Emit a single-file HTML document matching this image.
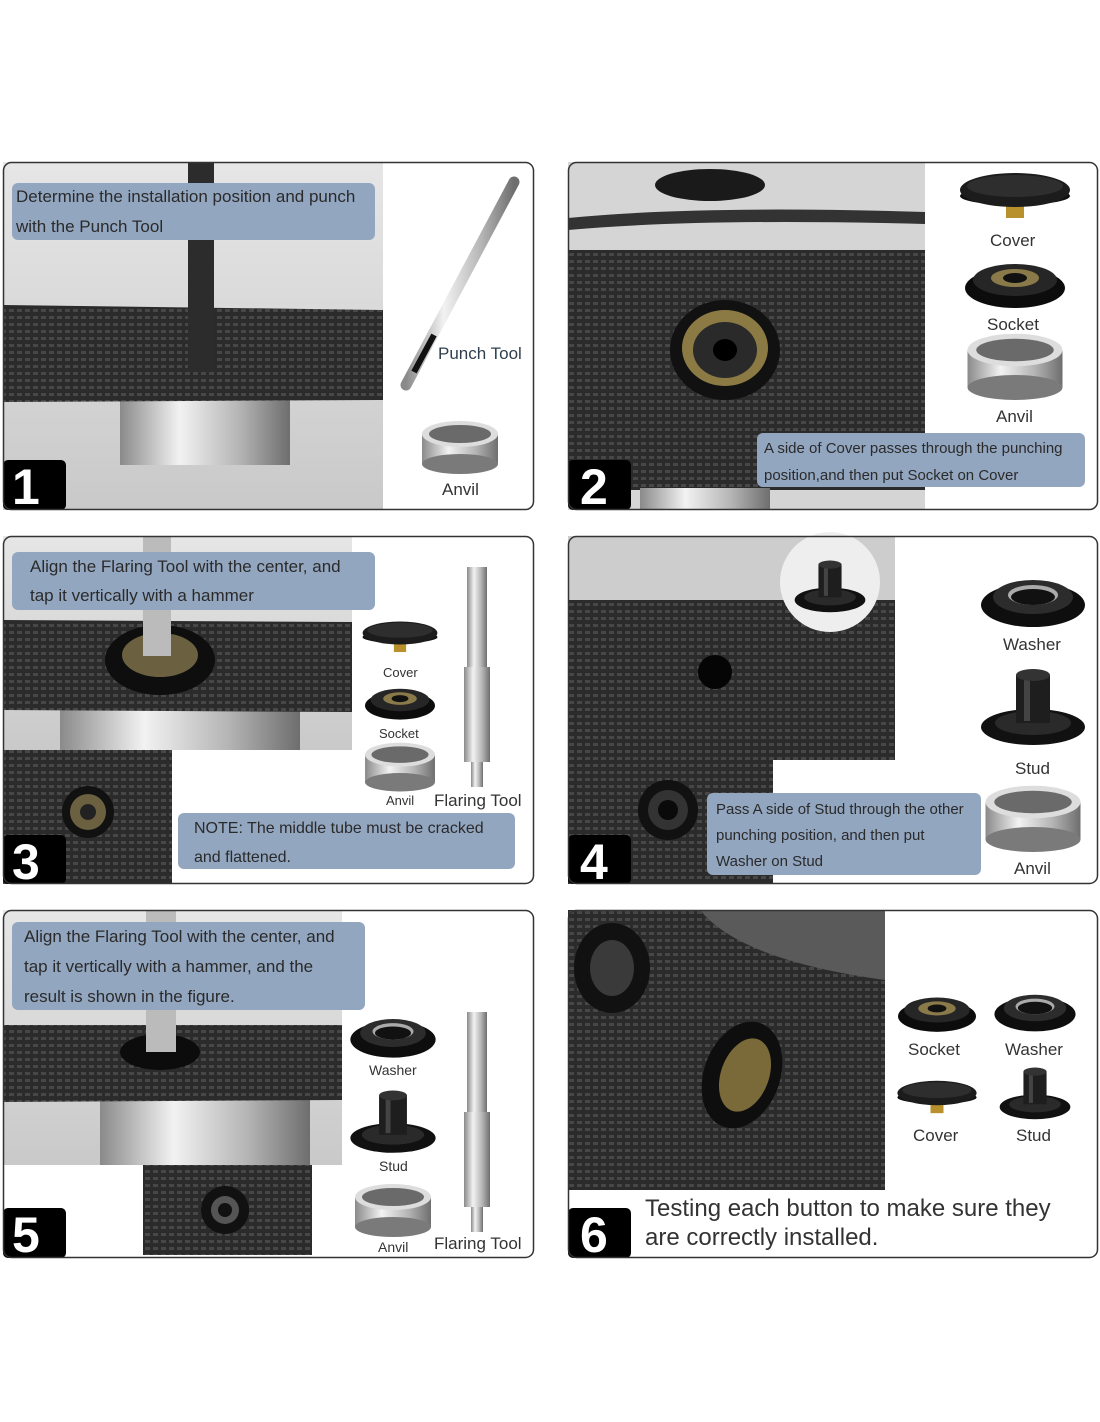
<!DOCTYPE html>
<html><head><meta charset="utf-8"><style>html,body{margin:0;padding:0;background:#fff}svg{display:block}text{font-family:"Liberation Sans",sans-serif}</style></head>
<body>
<svg width="1100" height="1422" viewBox="0 0 1100 1422" xmlns="http://www.w3.org/2000/svg">
<defs>
<pattern id="fab" width="8" height="7" patternUnits="userSpaceOnUse">
<rect width="8" height="7" fill="#2b2b2b"/><rect x="1" y="1" width="5" height="3" fill="#474747"/>
</pattern>
<linearGradient id="silv" x1="0" x2="1"><stop offset="0" stop-color="#8a8a8a"/><stop offset=".35" stop-color="#f2f2f2"/><stop offset=".7" stop-color="#b5b5b5"/><stop offset="1" stop-color="#6e6e6e"/></linearGradient>
<linearGradient id="bgg" x1="0" y1="0" x2="0" y2="1"><stop offset="0" stop-color="#e6e6e6"/><stop offset="1" stop-color="#c9c9c9"/></linearGradient>
<g id="anvil"><rect x="-38" y="-8" width="76" height="30" fill="url(#silv)"/><ellipse cx="0" cy="22" rx="38" ry="10" fill="#7a7a7a"/><ellipse cx="0" cy="-8" rx="38" ry="13" fill="#ddd"/><ellipse cx="0" cy="-8" rx="31" ry="9" fill="#6a6a6a"/></g>
<g id="cover"><rect x="-9" y="8" width="18" height="20" fill="#b8902c"/><ellipse cx="0" cy="6" rx="55" ry="9" fill="#111"/><ellipse cx="0" cy="0" rx="55" ry="17" fill="#1c1c1c"/><ellipse cx="0" cy="-4" rx="48" ry="11" fill="#2e2e2e"/></g>
<g id="socket"><ellipse cx="0" cy="8" rx="50" ry="20" fill="#0c0c0c"/><ellipse cx="0" cy="0" rx="42" ry="16" fill="#262626"/><ellipse cx="0" cy="-2" rx="24" ry="9" fill="#8a7a4a"/><ellipse cx="0" cy="-2" rx="12" ry="5" fill="#111"/></g>
<g id="washer"><ellipse cx="0" cy="8" rx="52" ry="22" fill="#0e0e0e"/><ellipse cx="0" cy="0" rx="40" ry="17" fill="#2c2c2c"/><ellipse cx="0" cy="-2" rx="25" ry="10" fill="#aaa"/><ellipse cx="0" cy="0" rx="22" ry="8" fill="#111"/></g>
<g id="stud"><ellipse cx="0" cy="22" rx="52" ry="18" fill="#111"/><ellipse cx="0" cy="18" rx="38" ry="12" fill="#2a2a2a"/><rect x="-17" y="-30" width="34" height="48" fill="#1e1e1e"/><rect x="-9" y="-28" width="6" height="44" fill="#444"/><ellipse cx="0" cy="-30" rx="17" ry="6" fill="#333"/></g>
<g id="tool"><rect x="-10" y="0" width="20" height="100" fill="url(#silv)"/><rect x="-13" y="100" width="26" height="95" fill="url(#silv)"/><rect x="-6" y="195" width="12" height="25" fill="url(#silv)"/></g>
</defs>
<rect width="1100" height="1422" fill="#fff"/>

<!-- Panel 1 -->
<rect x="3" y="162" width="380" height="348" fill="url(#bgg)"/>
<rect x="120" y="395" width="170" height="70" fill="url(#silv)"/>
<polygon points="3,305 383,310 383,400 3,402" fill="url(#fab)"/>
<rect x="188" y="162" width="26" height="210" fill="#2c2c2c"/>
<rect x="12" y="183" width="363" height="57" rx="6" fill="#93a6c0"/>
<text x="16" y="202" font-size="17" fill="#2a2a2a">Determine the installation position and punch</text>
<text x="16" y="232" font-size="17" fill="#2a2a2a">with the Punch Tool</text>
<line x1="514" y1="182" x2="406" y2="385" stroke="url(#silv)" stroke-width="11" stroke-linecap="round"/>
<line x1="434" y1="335" x2="414" y2="372" stroke="#111" stroke-width="6"/>
<text x="438" y="359" font-size="17" fill="#2f3f4f">Punch Tool</text>
<use href="#anvil" transform="translate(460,442)"/>
<text x="442" y="495" font-size="17" fill="#333">Anvil</text>
<rect x="3" y="460" width="63" height="50" rx="5" fill="#000"/><text x="12" y="504" font-size="50" font-weight="bold" fill="#fff">1</text>
<rect x="3.5" y="162.5" width="530" height="347" rx="8" fill="none" stroke="#333" stroke-width="1.5"/>

<!-- Panel 2 -->
<rect x="568" y="162" width="357" height="348" fill="#d5d5d5"/>
<path d="M568,218 Q700,205 925,212 L925,224 Q700,218 568,230Z" fill="#333"/>
<ellipse cx="710" cy="185" rx="55" ry="16" fill="#1a1a1a"/>
<rect x="568" y="250" width="357" height="240" fill="url(#fab)"/>
<rect x="640" y="488" width="130" height="22" fill="url(#silv)"/>
<ellipse cx="725" cy="350" rx="55" ry="50" fill="#111"/><ellipse cx="725" cy="348" rx="43" ry="38" fill="#8c7a45"/><ellipse cx="725" cy="350" rx="32" ry="28" fill="#2a2a2a"/><ellipse cx="725" cy="350" rx="12" ry="11" fill="#000"/>
<use href="#cover" transform="translate(1015,190)"/><text x="990" y="246" font-size="17" fill="#333">Cover</text>
<use href="#socket" transform="translate(1015,280)"/><text x="987" y="330" font-size="17" fill="#333">Socket</text>
<use href="#anvil" transform="translate(1015,360) scale(1.25)"/><text x="996" y="422" font-size="17" fill="#333">Anvil</text>
<rect x="757" y="433" width="328" height="54" rx="6" fill="#93a6c0"/>
<text x="764" y="453" font-size="15" fill="#2a2a2a">A side of Cover passes through the punching</text>
<text x="764" y="480" font-size="15" fill="#2a2a2a">position,and then put Socket on Cover</text>
<rect x="568" y="460" width="63" height="50" rx="5" fill="#000"/><text x="580" y="504" font-size="50" font-weight="bold" fill="#fff">2</text>
<rect x="568.5" y="162.5" width="529" height="347" rx="8" fill="none" stroke="#333" stroke-width="1.5"/>

<!-- Panel 3 -->
<rect x="3" y="536" width="349" height="214" fill="url(#bgg)"/>
<rect x="60" y="705" width="240" height="45" fill="url(#silv)"/>
<polygon points="3,620 352,622 352,712 3,710" fill="url(#fab)"/>
<ellipse cx="160" cy="660" rx="55" ry="35" fill="#0e0e0e"/><ellipse cx="160" cy="655" rx="38" ry="22" fill="#6b6040"/>
<rect x="143" y="536" width="28" height="120" fill="#bbb"/>
<rect x="3" y="750" width="169" height="134" fill="url(#fab)"/>
<circle cx="88" cy="812" r="26" fill="#111"/><circle cx="88" cy="812" r="18" fill="#6b6040"/><circle cx="88" cy="812" r="8" fill="#222"/>
<rect x="12" y="552" width="363" height="58" rx="6" fill="#93a6c0"/>
<text x="30" y="572" font-size="17" fill="#2a2a2a">Align the Flaring Tool with the center, and</text>
<text x="30" y="601" font-size="17" fill="#2a2a2a">tap it vertically with a hammer</text>
<use href="#cover" transform="translate(400,633) scale(0.68)"/><text x="383" y="677" font-size="13" fill="#333">Cover</text>
<use href="#socket" transform="translate(400,700) scale(0.7)"/><text x="379" y="738" font-size="13" fill="#333">Socket</text>
<use href="#anvil" transform="translate(400,762) scale(0.92)"/><text x="386" y="805" font-size="13" fill="#333">Anvil</text>
<use href="#tool" transform="translate(477,567)"/>
<text x="434" y="806" font-size="17" fill="#333">Flaring Tool</text>
<rect x="178" y="813" width="337" height="56" rx="6" fill="#93a6c0"/>
<text x="194" y="833" font-size="16" fill="#2a2a2a">NOTE: The middle tube must be cracked</text>
<text x="194" y="862" font-size="16" fill="#2a2a2a">and flattened.</text>
<rect x="3" y="835" width="63" height="49" rx="5" fill="#000"/><text x="12" y="879" font-size="50" font-weight="bold" fill="#fff">3</text>
<rect x="3.5" y="536.5" width="530" height="347" rx="8" fill="none" stroke="#333" stroke-width="1.5"/>

<!-- Panel 4 -->
<rect x="568" y="536" width="327" height="224" fill="#cdcdcd"/>
<rect x="568" y="600" width="327" height="160" fill="url(#fab)"/>
<ellipse cx="715" cy="672" rx="17" ry="17" fill="#050505"/>
<circle cx="830" cy="582" r="50" fill="#eee"/>
<use href="#stud" transform="translate(830,585) scale(0.68)"/>
<rect x="568" y="760" width="205" height="124" fill="url(#fab)"/>
<circle cx="668" cy="810" r="30" fill="#111"/><circle cx="668" cy="810" r="20" fill="#333"/><circle cx="668" cy="810" r="10" fill="#0a0a0a"/>
<use href="#washer" transform="translate(1033,597)"/><text x="1003" y="650" font-size="17" fill="#333">Washer</text>
<use href="#stud" transform="translate(1033,705)"/><text x="1015" y="774" font-size="17" fill="#333">Stud</text>
<use href="#anvil" transform="translate(1033,812) scale(1.25)"/><text x="1014" y="874" font-size="17" fill="#333">Anvil</text>
<rect x="707" y="793" width="274" height="82" rx="6" fill="#93a6c0"/>
<text x="716" y="814" font-size="15" fill="#2a2a2a">Pass A side of Stud through the other</text>
<text x="716" y="840" font-size="15" fill="#2a2a2a">punching position, and then put</text>
<text x="716" y="866" font-size="15" fill="#2a2a2a">Washer on Stud</text>
<rect x="568" y="835" width="63" height="49" rx="5" fill="#000"/><text x="580" y="879" font-size="50" font-weight="bold" fill="#fff">4</text>
<rect x="568.5" y="536.5" width="529" height="347" rx="8" fill="none" stroke="#333" stroke-width="1.5"/>

<!-- Panel 5 -->
<rect x="3" y="910" width="339" height="255" fill="url(#bgg)"/>
<rect x="100" y="1095" width="210" height="70" fill="url(#silv)"/>
<polygon points="3,1025 342,1025 342,1100 3,1102" fill="url(#fab)"/>
<ellipse cx="160" cy="1052" rx="40" ry="18" fill="#0c0c0c"/>
<rect x="146" y="910" width="30" height="142" fill="#bbb"/>
<rect x="143" y="1165" width="169" height="90" fill="url(#fab)"/>
<circle cx="225" cy="1210" r="24" fill="#111"/><circle cx="225" cy="1210" r="14" fill="#555"/><circle cx="225" cy="1210" r="7" fill="#111"/>
<rect x="12" y="922" width="353" height="88" rx="6" fill="#93a6c0"/>
<text x="24" y="942" font-size="17" fill="#2a2a2a">Align the Flaring Tool with the center, and</text>
<text x="24" y="972" font-size="17" fill="#2a2a2a">tap it vertically with a hammer, and the</text>
<text x="24" y="1002" font-size="17" fill="#2a2a2a">result is shown in the figure.</text>
<use href="#washer" transform="translate(393,1033) scale(0.82)"/><text x="369" y="1075" font-size="14" fill="#333">Washer</text>
<use href="#stud" transform="translate(393,1120) scale(0.82)"/><text x="379" y="1171" font-size="14" fill="#333">Stud</text>
<use href="#anvil" transform="translate(393,1205)"/><text x="378" y="1252" font-size="14" fill="#333">Anvil</text>
<use href="#tool" transform="translate(477,1012)"/>
<text x="434" y="1249" font-size="17" fill="#333">Flaring Tool</text>
<rect x="3" y="1208" width="63" height="50" rx="5" fill="#000"/><text x="12" y="1252" font-size="50" font-weight="bold" fill="#fff">5</text>
<rect x="3.5" y="910.5" width="530" height="347" rx="8" fill="none" stroke="#333" stroke-width="1.5"/>

<!-- Panel 6 -->
<rect x="568" y="910" width="317" height="280" fill="#5a5a5a"/>
<path d="M568,910 L700,910 Q740,960 885,980 L885,1190 L568,1190Z" fill="url(#fab)"/>
<ellipse cx="612" cy="968" rx="38" ry="45" fill="#111"/><ellipse cx="612" cy="968" rx="22" ry="28" fill="#3a3a3a"/>
<ellipse cx="742" cy="1075" rx="38" ry="55" transform="rotate(20 742 1075)" fill="#0e0e0e"/><ellipse cx="745" cy="1075" rx="24" ry="38" transform="rotate(20 745 1075)" fill="#7a6a3a"/>
<use href="#socket" transform="translate(937,1010) scale(0.78)"/><text x="908" y="1055" font-size="17" fill="#333">Socket</text>
<use href="#washer" transform="translate(1035,1008) scale(0.78)"/><text x="1005" y="1055" font-size="17" fill="#333">Washer</text>
<use href="#cover" transform="translate(937,1093) scale(0.72)"/><text x="913" y="1141" font-size="17" fill="#333">Cover</text>
<use href="#stud" transform="translate(1035,1092) scale(0.68)"/><text x="1016" y="1141" font-size="17" fill="#333">Stud</text>
<text x="645" y="1216" font-size="24" fill="#333">Testing each button to make sure they</text>
<text x="645" y="1245" font-size="24" fill="#333">are correctly installed.</text>
<rect x="568" y="1208" width="63" height="50" rx="5" fill="#000"/><text x="580" y="1252" font-size="50" font-weight="bold" fill="#fff">6</text>
<rect x="568.5" y="910.5" width="529" height="347" rx="8" fill="none" stroke="#333" stroke-width="1.5"/>
</svg>
</body></html>
